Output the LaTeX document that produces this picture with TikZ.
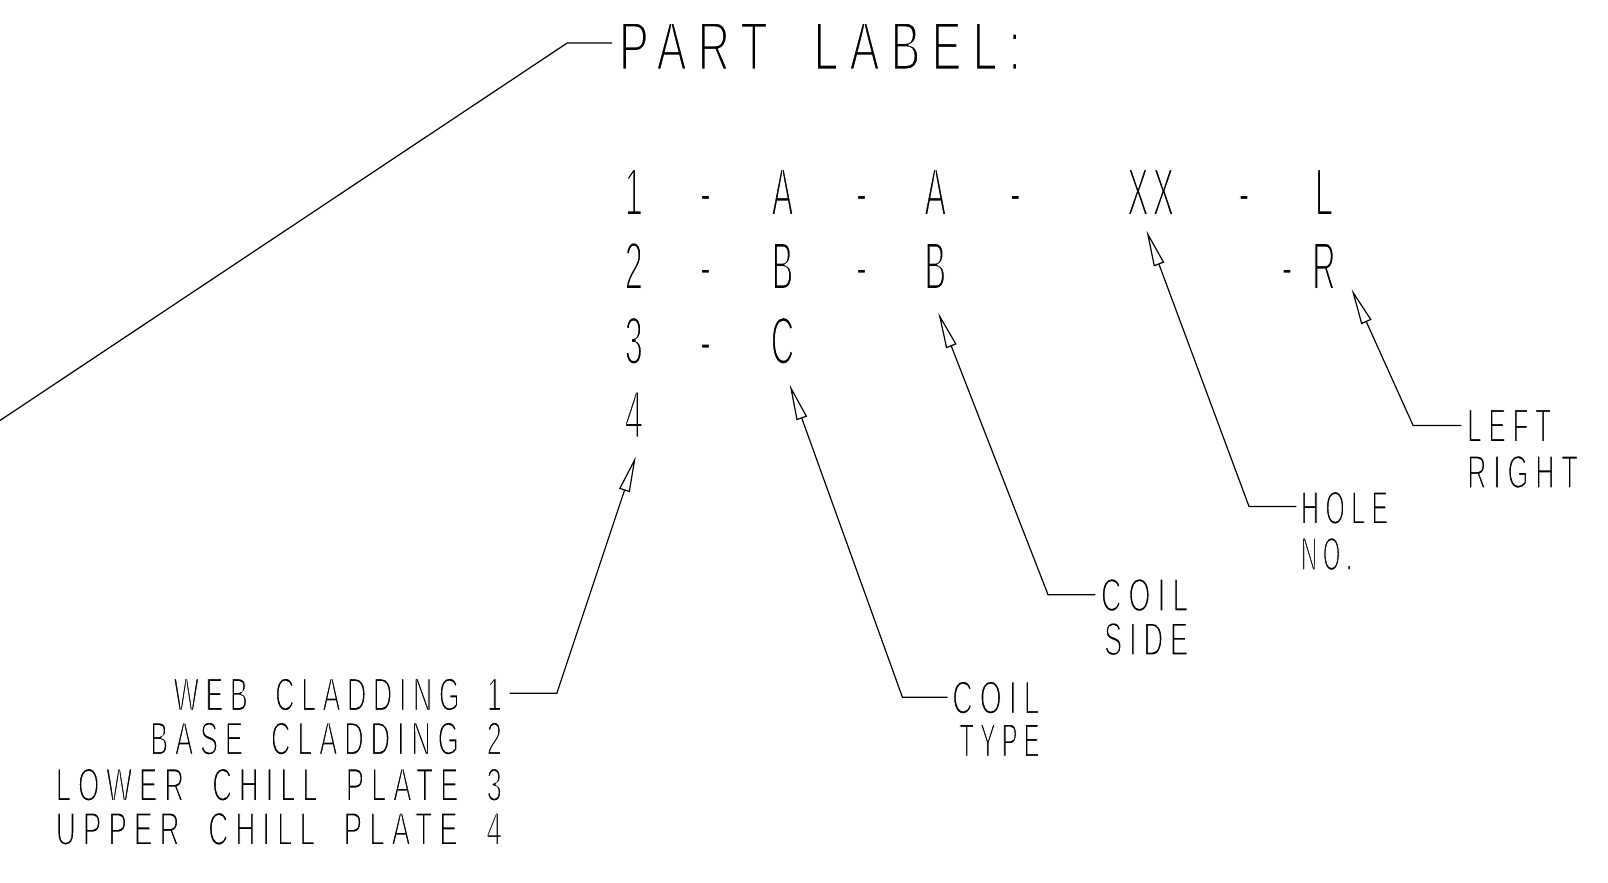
\documentclass[tikz,border=0pt]{standalone}
\usepackage{fontspec}
\usepackage{graphicx}
\usetikzlibrary{arrows.meta}
\newfontfamily\cadfont[LetterSpace=25]{Liberation Sans}
\newfontfamily\cadbig[LetterSpace=12]{Liberation Sans}
\newdimen\cadpx \cadpx=0.51276pt
\newcommand\thinout[1]{\special{pdf:literal direct q 2 Tr 0.35 w 1 1 1 RG}#1\special{pdf:literal direct Q}}
\newcommand\wsp{\space\hspace{0.5em}}
\newcommand\ctext[3]{\resizebox{#1\cadpx}{#2\cadpx}{\thinout{\cadfont #3}}}
\newcommand\cadg[1]{\scalebox{1.62}[3.38]{\thinout{\cadbig #1}}}
\begin{document}
\begin{tikzpicture}[x=0.51276pt,y=-0.51276pt,line width=0.6pt,
  glyph/.style={inner sep=0pt,anchor=base},
  lbl/.style={inner sep=0pt,anchor=base west},
  rlbl/.style={inner sep=0pt,anchor=base east},
  leader/.style={line width=0.6pt,{Triangle[open,length=18pt,width=5.5pt]}-}]
\useasboundingbox (0,0) rectangle (1568,861);

% title
\node[lbl] (title) at (603,68) {\ctext{392}{46}{PART\wsp{}LABEL:}};
\coordinate (t0) at (0,410);
\coordinate (tb) at (553,42);
\coordinate (te) at (597,42);
\draw (t0) -- (tb) -- (te);

% row 1
\node[glyph] (r1a) at (618,210) {\cadg{1}};
\node[glyph] (r1d1) at (688,210) {\cadg{-}};
\node[glyph] (r1b) at (763,210) {\cadg{A}};
\node[glyph] (r1d2) at (840,210) {\cadg{-}};
\node[glyph] (r1c) at (912,210) {\cadg{A}};
\node[glyph] (r1d3) at (990,210) {\cadg{-}};
\node[glyph] (r1x) at (1122,210) {\cadg{XX}};
\node[glyph] (r1d4) at (1213,210) {\cadg{-}};
\node[glyph] (r1l) at (1291,210) {\cadg{L}};
% row 2
\node[glyph] (r2a) at (618,282) {\cadg{2}};
\node[glyph] (r2d1) at (688,282) {\cadg{-}};
\node[glyph] (r2b) at (763,282) {\cadg{B}};
\node[glyph] (r2d2) at (840,282) {\cadg{-}};
\node[glyph] (r2c) at (912,282) {\cadg{B}};
\node[glyph] (r2d4) at (1255,282) {\cadg{-}};
\node[glyph] (r2r) at (1291,282) {\cadg{R}};
% row 3
\node[glyph] (r3a) at (618,355) {\cadg{3}};
\node[glyph] (r3d1) at (688,355) {\cadg{-}};
\node[glyph] (r3b) at (763,355) {\cadg{C}};
% row 4
\node[glyph] (r4a) at (618,427) {\cadg{4}};

% labels bottom left
\node[rlbl] (web) at (490,693) {\ctext{320}{32}{WEB\wsp{}CLADDING\wsp{}1}};
\node[rlbl] (base) at (490,736) {\ctext{343}{32}{BASE\wsp{}CLADDING\wsp{}2}};
\node[rlbl] (lower) at (490,781) {\ctext{435}{32}{LOWER\wsp{}CHILL\wsp{}PLATE\wsp{}3}};
\node[rlbl] (upper) at (490,824) {\ctext{435}{32}{UPPER\wsp{}CHILL\wsp{}PLATE\wsp{}4}};

% coil type
\node[lbl] (ct1) at (928,696) {\ctext{85}{32}{COIL}};
\node[lbl] (ct2) at (935,738) {\ctext{78}{32}{TYPE}};
% coil side
\node[lbl] (cs1) at (1073,596) {\ctext{85}{32}{COIL}};
\node[lbl] (cs2) at (1076,639) {\ctext{82}{32}{SIDE}};
% hole no
\node[lbl] (hn1) at (1268,511) {\ctext{85}{32}{HOLE}};
\node[lbl] (hn2) at (1268,556) {\ctext{50}{32}{NO.}};
% left right
\node[lbl] (lr1) at (1430,431) {\ctext{82}{32}{LEFT}};
\node[lbl] (lr2) at (1430,476) {\ctext{108}{32}{RIGHT}};

% leaders
\coordinate (p1) at (620,445);  \coordinate (q1) at (543,676);  \coordinate (e1) at (497,676);
\coordinate (p2) at (770,375);  \coordinate (q2) at (880,680);  \coordinate (e2) at (924,680);
\coordinate (p3) at (915,305);  \coordinate (q3) at (1022,580); \coordinate (e3) at (1068,580);
\coordinate (p4) at (1118,225); \coordinate (q4) at (1218,494); \coordinate (e4) at (1264,494);
\coordinate (p5) at (1318,282); \coordinate (q5) at (1378,415); \coordinate (e5) at (1425,415);
\draw[leader] (p1) -- (q1) -- (e1);
\draw[leader] (p2) -- (q2) -- (e2);
\draw[leader] (p3) -- (q3) -- (e3);
\draw[leader] (p4) -- (q4) -- (e4);
\draw[leader] (p5) -- (q5) -- (e5);
\end{tikzpicture}
\end{document}
